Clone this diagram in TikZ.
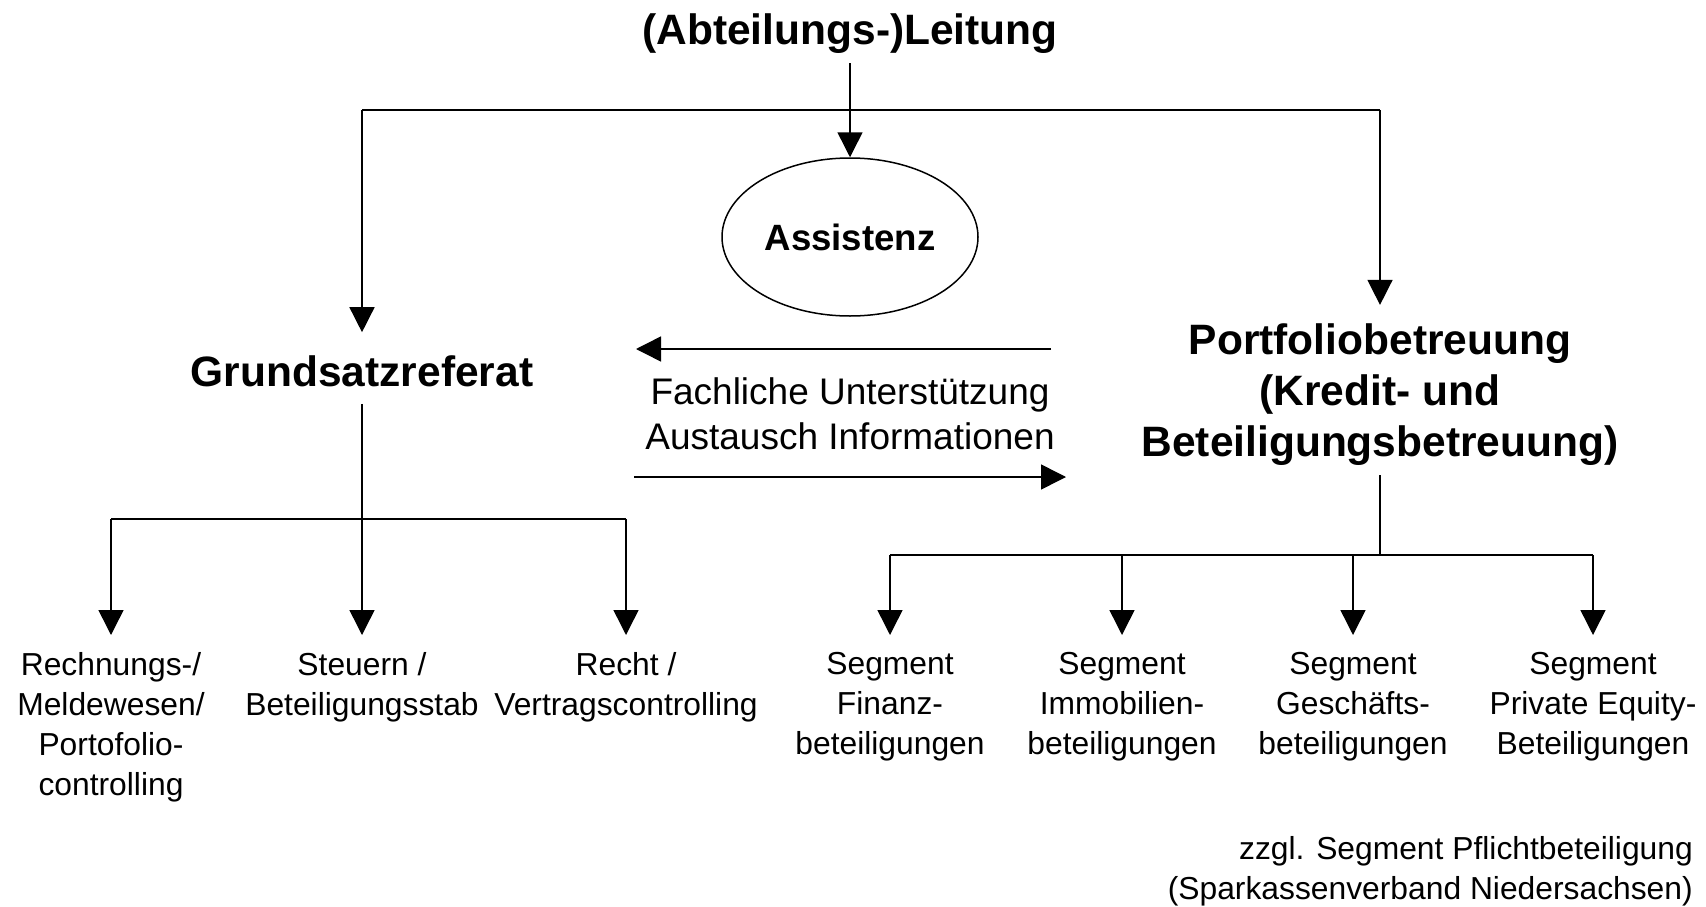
\documentclass[tikz,border=0pt]{standalone}
\usepackage{fontspec}
\setmainfont{Liberation Sans}
\usetikzlibrary{arrows.meta,shapes.geometric}
\begin{document}
\begin{tikzpicture}[x=1pt,y=-1pt,
  lbl/.style={font=\fontsize{31.8}{40}\selectfont, align=center, inner sep=0pt, anchor=north},
  boldtxt/.style={font=\fontsize{42.5}{51}\selectfont\bfseries, align=center, inner sep=0pt},
  line/.style={line width=1.5pt},
  arr/.style={line width=1.5pt, -{Triangle[length=25pt,width=25pt]}}]
\useasboundingbox[fill=white] (0,0) rectangle (1706,907);
% nodes
\node[boldtxt] (title) at (850,34) {(Abteilungs-)Leitung};
\node[ellipse, draw, line width=1.5pt, minimum width=256pt, minimum height=158pt, inner sep=0pt,
      font=\fontsize{36.6}{44}\selectfont\bfseries] (assist) at (850,237) {Assistenz};
\node[boldtxt] (grund) at (362,371) {Grundsatzreferat};
\node[boldtxt] (port) at (1380,395) {Portfoliobetreuung\\(Kredit- und\\Beteiligungsbetreuung)};
\node[font=\fontsize{37}{45}\selectfont, align=center, inner sep=0pt] (fach) at (850,414) {Fachliche Unterstützung\\Austausch Informationen};
\node[lbl] (l1) at (111,652) {Rechnungs-/\\Meldewesen/\\Portofolio-\\controlling};
\node[lbl] (l2) at (362,652) {Steuern /\\Beteiligungsstab};
\node[lbl] (l3) at (626,652) {Recht /\\Vertragscontrolling};
\node[lbl] (s1) at (890,652) {Segment\\Finanz-\\beteiligungen};
\node[lbl] (s2) at (1122,652) {Segment\\Immobilien-\\beteiligungen};
\node[lbl] (s3) at (1353,652) {Segment\\Geschäfts-\\beteiligungen};
\node[lbl] (s4) at (1593,652) {Segment\\Private Equity-\\Beteiligungen};
\node[font=\fontsize{31.8}{40}\selectfont, align=right, inner sep=0pt, anchor=north east] (foot) at (1693,836) {zzgl. Segment Pflichtbeteiligung\\(Sparkassenverband Niedersachsen)};
% coordinates
\coordinate (hL) at (362,110);
\coordinate (hR) at (1380,110);
\coordinate (gb) at (362,519);
\coordinate (pb) at (1380,555);
\coordinate (aLs) at (1051,349);
\coordinate (aLe) at (636,349);
\coordinate (aRs) at (634,477);
\coordinate (aRe) at (1066,477);
% connectors
\draw[arr, shorten <=9pt] (title) -- (assist);
\draw[line] (hL) -- (hR);
\draw[arr, shorten >=23pt] (hL) -- (grund.north);
\draw[arr, shorten >=19pt] (hR) -- (port.north);
\draw[arr] (aLs) -- (aLe);
\draw[arr] (aRs) -- (aRe);
\draw[line] (l1 |- gb) -- (l3 |- gb);
\draw[arr, shorten <=17pt, shorten >=17pt] (grund) -- (l2);
\draw[arr, shorten >=17pt] (l1 |- gb) -- (l1.north);
\draw[arr, shorten >=17pt] (l3 |- gb) -- (l3.north);
\draw[line, shorten <=9pt] (port.south) -- (pb);
\draw[line] (s1 |- pb) -- (s4 |- pb);
\draw[arr, shorten >=17pt] (s1 |- pb) -- (s1.north);
\draw[arr, shorten >=17pt] (s2 |- pb) -- (s2.north);
\draw[arr, shorten >=17pt] (s3 |- pb) -- (s3.north);
\draw[arr, shorten >=17pt] (s4 |- pb) -- (s4.north);
\end{tikzpicture}
\end{document}
